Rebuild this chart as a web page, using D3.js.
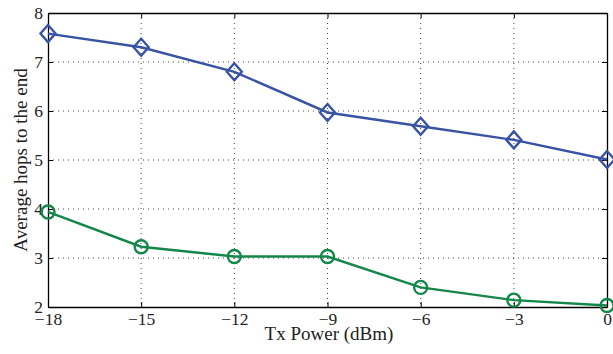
<!DOCTYPE html>
<html>
<head>
<meta charset="utf-8">
<title></title>
<script src="https://d3js.org/d3.v7.min.js"></script>
<style>
body { margin: 0; background: #fff; }
svg { display: block; font-family: "Liberation Serif", "Times New Roman", serif; }
</style>
</head>
<body>
<div id="chart"></div>
<script>
const txPower = [-18, -15, -12, -9, -6, -3, 0];
const hopsDiamond = [7.58, 7.3, 6.8, 5.97, 5.69, 5.41, 5.01];
const hopsCircle = [3.94, 3.23, 3.03, 3.03, 2.4, 2.14, 2.03];
const xTicks = [-18, -15, -12, -9, -6, -3, 0];
const yTicks = [2, 3, 4, 5, 6, 7, 8];

const width = 613, height = 354;
const margin = { top: 13, right: 6, bottom: 47, left: 48 };
const w = width - margin.left - margin.right;
const h = height - margin.top - margin.bottom;

const svg = d3.select('#chart').append('svg')
    .attr('width', width)
    .attr('height', height);

const g = svg.append('g')
    .attr('transform', `translate(${margin.left},${margin.top})`);

const x = d3.scaleLinear().domain([-18, 0]).range([0, w]);
const y = d3.scaleLinear().domain([2, 8]).range([h, 0]);

// grid
g.append('g').selectAll('line')
    .data(xTicks.slice(1, -1))
    .join('line')
    .attr('x1', d => x(d)).attr('x2', d => x(d))
    .attr('y1', 0).attr('y2', h)
    .attr('stroke', '#444').attr('stroke-width', 1)
    .attr('stroke-dasharray', '1,4');
g.append('g').selectAll('line')
    .data(yTicks.slice(1, -1))
    .join('line')
    .attr('x1', 0).attr('x2', w)
    .attr('y1', d => y(d)).attr('y2', d => y(d))
    .attr('stroke', '#444').attr('stroke-width', 1)
    .attr('stroke-dasharray', '1,4');

// axes, ticks pointing inward on all four sides
const fmt = d => d < 0 ? '\u2212' + Math.abs(d) : String(d);
const xAxis = g.append('g')
    .attr('transform', `translate(0,${h})`)
    .call(d3.axisBottom(x).tickValues(xTicks).tickSizeInner(-5).tickSizeOuter(0).tickPadding(6).tickFormat(fmt));
g.append('g')
    .call(d3.axisTop(x).tickValues(xTicks).tickSizeInner(-5).tickSizeOuter(0).tickFormat(''));
g.append('g')
    .call(d3.axisLeft(y).tickValues(yTicks).tickSizeInner(-5).tickSizeOuter(0).tickPadding(5).tickFormat(fmt));
g.append('g')
    .attr('transform', `translate(${w},0)`)
    .call(d3.axisRight(y).tickValues(yTicks).tickSizeInner(-5).tickSizeOuter(0).tickFormat(''));

g.selectAll('.domain').attr('stroke', '#000').attr('stroke-width', 1.3);
g.selectAll('.tick line').attr('stroke', '#000');
g.selectAll('.tick text')
    .attr('font-family', '"Liberation Serif", serif')
    .attr('font-size', 17.5)
    .attr('fill', '#222');
xAxis.selectAll('.tick text').attr('dy', '0.71em');

// series
const series = [
    { values: hopsDiamond, color: '#3953a4', marker: 'diamond' },
    { values: hopsCircle, color: '#13874a', marker: 'circle' }
];

const line = d3.line()
    .x((d, i) => x(txPower[i]))
    .y(d => y(d));

series.forEach(s => {
    g.append('path')
        .datum(s.values)
        .attr('fill', 'none')
        .attr('stroke', s.color)
        .attr('stroke-width', 2.4)
        .attr('d', line);

    const pts = g.append('g').selectAll('path')
        .data(s.values)
        .join('path')
        .attr('transform', (d, i) => `translate(${x(txPower[i])},${y(d)})`)
        .attr('fill', 'none')
        .attr('stroke', s.color)
        .attr('stroke-width', 2.4);
    if (s.marker === 'diamond') {
        pts.attr('d', 'M0,-8.5L7.5,0L0,8.5L-7.5,0Z');
    } else {
        pts.attr('d', d3.arc()({ innerRadius: 0, outerRadius: 6.5, startAngle: 0, endAngle: 2 * Math.PI }));
    }
});

// labels
svg.append('text')
    .attr('x', 329)
    .attr('y', 340)
    .attr('text-anchor', 'middle')
    .attr('font-size', 19)
    .attr('fill', '#222')
    .text('Tx Power (dBm)');

svg.append('text')
    .attr('transform', `translate(27,${margin.top + h / 2}) rotate(-90)`)
    .attr('text-anchor', 'middle')
    .attr('font-size', 19)
    .attr('fill', '#222')
    .text('Average hops to the end');
</script>
</body>
</html>
